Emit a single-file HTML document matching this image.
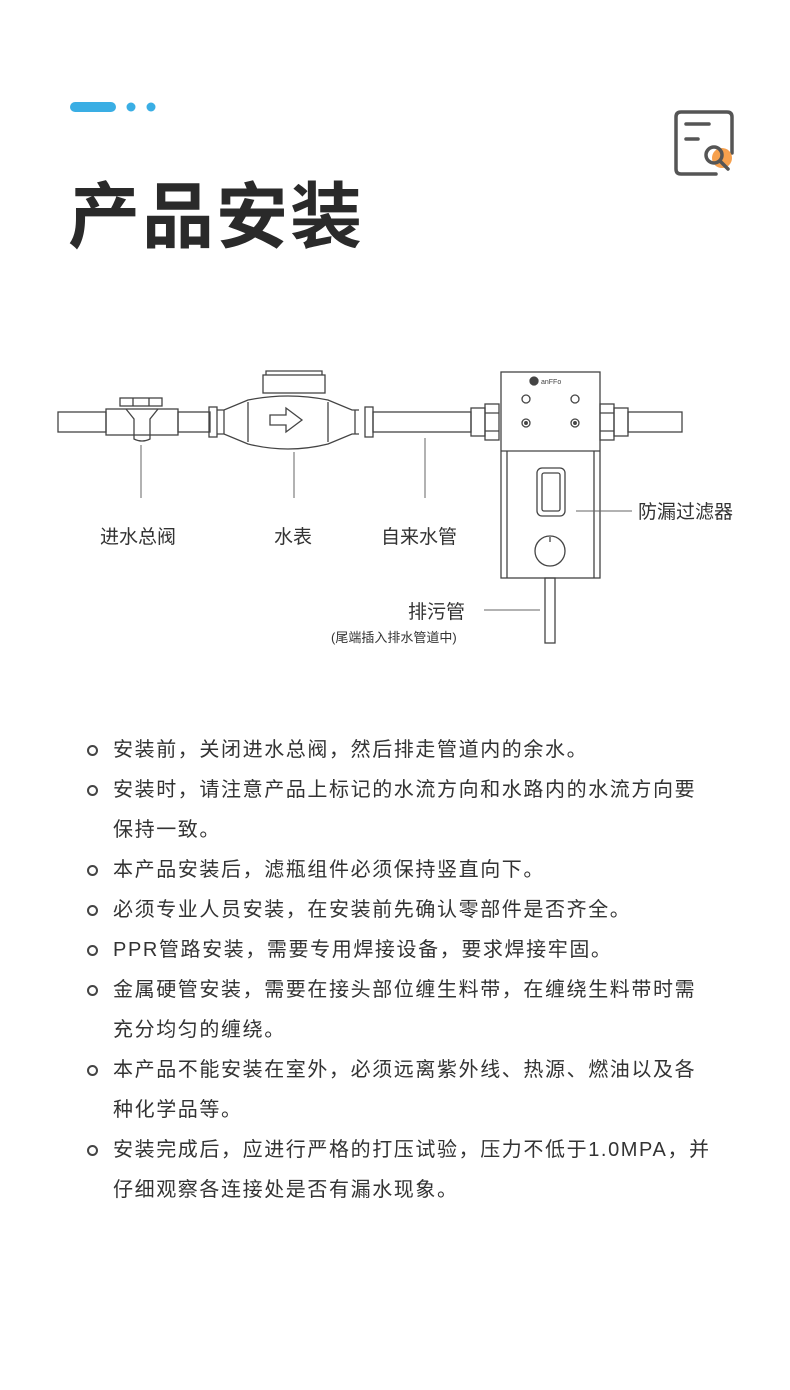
<!DOCTYPE html>
<html><head><meta charset="utf-8"><style>
body{margin:0;width:790px;height:1390px;background:#fff;position:relative;overflow:hidden;font-family:"Liberation Sans","Noto Sans CJK SC",sans-serif;color:#333}
.t{position:absolute;left:68px;top:168px;font-size:72px;font-weight:bold;color:#2a2a2a;letter-spacing:2px;line-height:100px}
ul{position:absolute;left:0;top:730px;margin:0;padding:0;list-style:none}
li{position:relative;padding-left:113px;width:600px;font-size:20px;letter-spacing:1.6px;line-height:40px;color:#333}
li:before{content:"";position:absolute;left:87px;top:15px;width:7px;height:7px;border:2px solid #444;border-radius:50%}
.lab{position:absolute;font-size:19px;color:#333;white-space:nowrap}
</style></head><body>
<svg width="790" height="700" style="position:absolute;left:0;top:0" fill="none" stroke="#444" stroke-width="1.3">
<rect x="70" y="102" width="46" height="10" rx="5" fill="#3aaee4" stroke="none"/>
<circle cx="131" cy="107" r="4.5" fill="#3aaee4" stroke="none"/>
<circle cx="151" cy="107" r="4.5" fill="#3aaee4" stroke="none"/>
<g stroke="#555" stroke-width="3.5" stroke-linecap="round">
<path d="M716 174H681q-5 0-5-5V117q0-5 5-5h46q5 0 5 5v36"/>
<path d="M686 124h23M686 139h12"/>
</g>
<circle cx="722" cy="158" r="10" fill="#f6a04d" stroke="none"/>
<circle cx="714" cy="155" r="8" stroke="#555" stroke-width="3.5"/>
<path d="M720 161l8 8" stroke="#555" stroke-width="3.5" stroke-linecap="round"/>
<!-- pipes -->
<rect x="58" y="412" width="48" height="20"/>
<rect x="106" y="409" width="72" height="26"/>
<rect x="178" y="412" width="32" height="20"/>
<path d="M126 409l8 10v20q8 4 16 0v-20l8-10"/>
<rect x="120" y="398" width="42" height="8"/>
<path d="M133 398v8M149 398v8"/>
<rect x="209" y="407" width="8" height="30"/>
<path d="M217 410h7l24-10q40-8 80 0l24 10h7M217 434h7l24 10q40 10 80 0l24-10h7M224 410v24M355 410v24M248 402v40M328 402v40"/>
<rect x="263" y="375" width="62" height="18"/><path d="M266 375v-4h56v4"/>
<path d="M270 415h16v-7l16 12-16 12v-7h-16z"/>
<rect x="365" y="407" width="8" height="30"/>
<rect x="373" y="412" width="98" height="20"/>
<rect x="471" y="408" width="14" height="28"/>
<rect x="485" y="404" width="14" height="36"/>
<path d="M485 413h14M485 431h14"/>
<rect x="600" y="404" width="14" height="36"/>
<path d="M600 413h14M600 431h14"/>
<rect x="614" y="408" width="14" height="28"/>
<rect x="628" y="412" width="54" height="20"/>
<!-- filter -->
<rect x="501" y="372" width="99" height="206"/>
<path d="M501 451h99M507 451v127M594 451v127"/>
<circle cx="534" cy="381" r="4" fill="#444"/>
<text x="541" y="384" font-size="7" fill="#444" stroke="none" font-family="Liberation Sans">anFFo</text>
<circle cx="526" cy="399" r="4"/><circle cx="575" cy="399" r="4"/>
<circle cx="526" cy="423" r="4"/><circle cx="575" cy="423" r="4"/>
<circle cx="526" cy="423" r="1.3" fill="#444"/><circle cx="575" cy="423" r="1.3" fill="#444"/>
<rect x="537" y="468" width="28" height="48" rx="5"/>
<rect x="542" y="473" width="18" height="38" rx="2"/>
<circle cx="550" cy="551" r="15"/>
<path d="M550 537v5"/>
<rect x="545" y="578" width="10" height="65"/>
<!-- leader lines -->
<path d="M141 445v53M294 452v46M425 438v60M576 511h56M484 610h56" stroke="#666" stroke-width="1"/>
</svg>
<div class="lab" style="left:100px;top:522px">进水总阀</div>
<div class="lab" style="left:274px;top:522px">水表</div>
<div class="lab" style="left:381px;top:522px">自来水管</div>
<div class="lab" style="left:638px;top:497px">防漏过滤器</div>
<div class="lab" style="left:408px;top:597px">排污管</div>
<div class="lab" style="left:331px;top:627px;font-size:13px">(尾端插入排水管道中)</div>
<div class="t">产品安装</div>
<ul>
<li>安装前，关闭进水总阀，然后排走管道内的余水。</li>
<li>安装时，请注意产品上标记的水流方向和水路内的水流方向要保持一致。</li>
<li>本产品安装后，滤瓶组件必须保持竖直向下。</li>
<li>必须专业人员安装，在安装前先确认零部件是否齐全。</li>
<li>PPR管路安装，需要专用焊接设备，要求焊接牢固。</li>
<li>金属硬管安装，需要在接头部位缠生料带，在缠绕生料带时需充分均匀的缠绕。</li>
<li>本产品不能安装在室外，必须远离紫外线、热源、燃油以及各种化学品等。</li>
<li>安装完成后，应进行严格的打压试验，压力不低于1.0MPA，并仔细观察各连接处是否有漏水现象。</li>
</ul>
</body></html>
